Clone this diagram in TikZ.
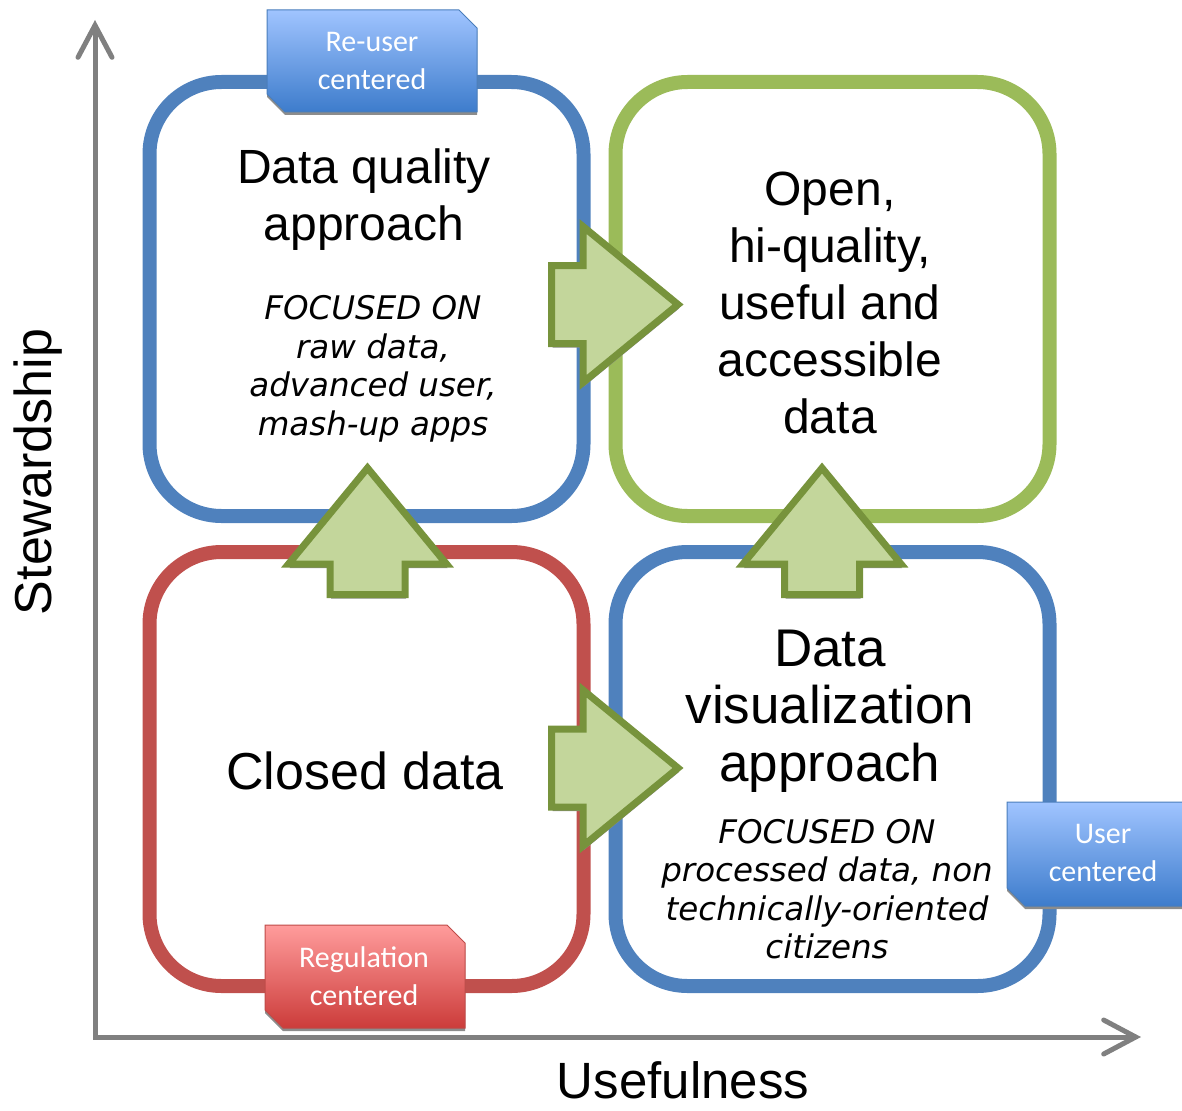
\documentclass[tikz,border=0pt]{standalone}
\usepackage{fontspec}
\setmainfont{Liberation Sans}
\newfontfamily\notefont{DejaVu Sans}
\newfontfamily\tagfont{Carlito}
\usetikzlibrary{arrows.meta}
\definecolor{qblue}{HTML}{4F81BD}
\definecolor{qgreen}{HTML}{9BBB59}
\definecolor{qred}{HTML}{C0504D}
\definecolor{arrowfill}{HTML}{C3D69B}
\definecolor{arrowline}{HTML}{77933C}
\definecolor{axisgray}{HTML}{808080}
\definecolor{tagbluetop}{HTML}{A0C4FF}
\definecolor{tagbluebot}{HTML}{3D7CCC}
\definecolor{tagblueline}{HTML}{4A7EBB}
\definecolor{tagredtop}{HTML}{FF9C9C}
\definecolor{tagredbot}{HTML}{CC3C3A}
\definecolor{tagredline}{HTML}{BE4B48}
\def\blockright(#1,#2){\begin{scope}[shift={(#1,#2)}]
	\fill[blockshadow] (0,0) -- (-95,-78) -- (-95,-39) -- (-126.5,-39) -- (-126.5,39) -- (-95,39) -- (-95,78) -- cycle;
	\draw[blockarrow] (0,0) -- (-95,-78) -- (-95,-39) -- (-126.5,-39) -- (-126.5,39) -- (-95,39) -- (-95,78) -- cycle;
\end{scope}}
\def\blockup(#1,#2){\begin{scope}[shift={(#1,#2)}]
	\fill[blockshadow] (0,0) -- (-79,96) -- (-37.5,96) -- (-37.5,126.5) -- (37.5,126.5) -- (37.5,96) -- (79,96) -- cycle;
	\draw[blockarrow] (0,0) -- (-79,96) -- (-37.5,96) -- (-37.5,126.5) -- (37.5,126.5) -- (37.5,96) -- (79,96) -- cycle;
\end{scope}}

\begin{document}
\begin{tikzpicture}[x=1pt, y=-1pt,
		quad/.style={rectangle, rounded corners=72pt, line width=14pt, inner sep=0pt, minimum width=434pt, minimum height=434pt},
		blockarrow/.style={fill=arrowfill, draw=arrowline, line width=7pt},
		blockshadow/.style={fill=black!45, shift={(1,4)}},
		bluetag/.style={top color=tagbluetop, bottom color=tagbluebot, draw=tagblueline, line width=1pt},
		redtag/.style={top color=tagredtop, bottom color=tagredbot, draw=tagredline, line width=1pt},
		tagshadow/.style={fill=black!45, shift={(0,3)}},
		title/.style={align=center, inner sep=0pt, font=\fontsize{48}{57}\selectfont},
		note/.style={align=center, inner sep=0pt, font=\notefont\itshape\fontsize{32.5}{38.5}\selectfont},
		tagtext/.style={align=center, inner sep=0pt, text=white, font=\tagfont\fontsize{30}{38}\selectfont},
		axis/.style={draw=axisgray, line width=5pt}]
		%%%%% START %%%%%
		
		\useasboundingbox (0,0) rectangle (1182,1110);
		
		% axes
		\coordinate (vtip) at (95,20);
		\coordinate (origin) at (95,1037);
		\coordinate (htip) at (1141,1037);
		\draw[axis, {Straight Barb[length=32pt, width=34pt, line cap=round]}-{Straight Barb[length=32pt, width=34pt, line cap=round]}] (vtip) -- (origin) -- (htip);
		\node[rotate=90, inner sep=0pt, font=\fontsize{52}{60}\selectfont] (stewardship) at (38,472) {Stewardship};
		\node[inner sep=0pt, font=\fontsize{51}{60}\selectfont] (usefulness) at (683,1080) {Usefulness};
		
		% quadrants
		\node[quad, draw=qblue] (quality) at (366.5,299) {};
		\node[quad, draw=qgreen] (open) at (832.5,299) {};
		\node[quad, draw=qred] (closed) at (366.5,769) {};
		\node[quad, draw=qblue] (visual) at (832.5,769) {};
		
		% block arrows
		\blockright(678,304.5)
		\blockright(678,768)
		\blockup(367.5,468)
		\blockup(822,468)
		
		% tags
		\fill[tagshadow] (267,10) -- (459,10) -- (477,28) -- (477,112) -- (285,112) -- (267,94) -- cycle;
		\path[bluetag] (267,10) -- (459,10) -- (477,28) -- (477,112) -- (285,112) -- (267,94) -- cycle;
		\node[tagtext] (reuser) at (372,61) {Re-user\\centered};
		
		\fill[tagshadow] (1007,802) -- (1200,802) -- (1200,906) -- (1025,906) -- (1007,888) -- cycle;
		\path[bluetag] (1007,802) -- (1200,802) -- (1200,906) -- (1025,906) -- (1007,888) -- cycle;
		\node[tagtext] (user) at (1103,853) {User\\centered};
		
		\fill[tagshadow] (265,925) -- (447,925) -- (465,943) -- (465,1028) -- (283,1028) -- (265,1010) -- cycle;
		\path[redtag] (265,925) -- (447,925) -- (465,943) -- (465,1028) -- (283,1028) -- (265,1010) -- cycle;
		\node[tagtext] (regulation) at (364,976) {Regulation\\centered};
		
		% texts
		\node[title] (qualitytitle) at (364,200) {Data quality\\approach};
		\node[note] (qualitynote) at (373,369) {FOCUSED ON\\raw data,\\advanced user,\\mash-up apps};
		\node[title] (opentitle) at (830,303) {Open,\\hi-quality,\\useful and\\accessible\\data};
		\node[title, font=\fontsize{52}{60}\selectfont] (closedtitle) at (365,771) {Closed data};
		\node[title, font=\fontsize{53}{57.5}\selectfont] (visualtitle) at (830,711) {Data\\visualization\\approach};
		\node[note] (visualnote) at (827,889) {FOCUSED ON\\processed data, non\\technically-oriented\\citizens};
		
		%%%%% END %%%%%
	\end{tikzpicture}
\end{document}
